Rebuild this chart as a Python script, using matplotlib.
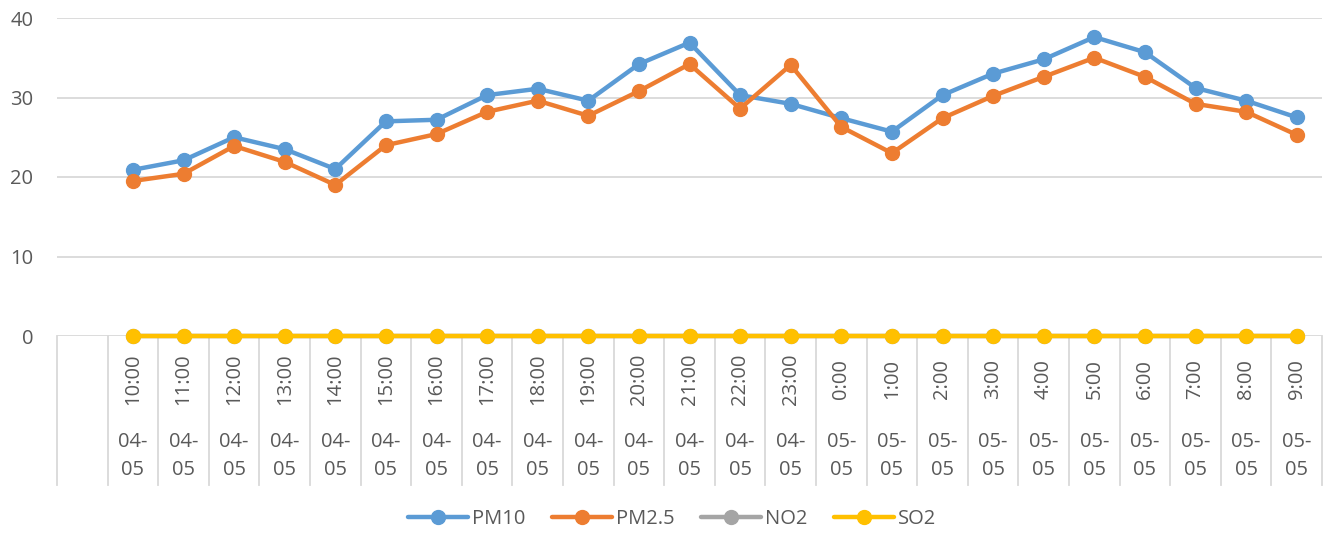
import numpy as np
import matplotlib.pyplot as plt

plt.rcParams['font.family'] = ['Open Sans', 'DejaVu Sans']

hours = ['10:00', '11:00', '12:00', '13:00', '14:00', '15:00', '16:00', '17:00',
         '18:00', '19:00', '20:00', '21:00', '22:00', '23:00', '0:00', '1:00',
         '2:00', '3:00', '4:00', '5:00', '6:00', '7:00', '8:00', '9:00']
dates = ['04-05'] * 14 + ['05-05'] * 10

pm10 = [20.9, 22.1, 25.0, 23.5, 21.0, 27.0, 27.2, 30.3, 31.1, 29.6, 34.2, 36.9,
        30.3, 29.2, 27.4, 25.7, 30.3, 33.0, 34.8, 37.6, 35.7, 31.2, 29.6, 27.5]
pm25 = [19.5, 20.4, 23.9, 21.9, 19.0, 24.0, 25.4, 28.2, 29.6, 27.7, 30.8, 34.2,
        28.6, 34.1, 26.3, 23.0, 27.4, 30.2, 32.6, 35.0, 32.6, 29.2, 28.2, 25.3]
no2 = [0] * 24
so2 = [0] * 24

series = [('PM10', pm10, '#5b9bd5'), ('PM2.5', pm25, '#ed7d31'),
          ('NO2', no2, '#a5a5a5'), ('SO2', so2, '#ffc000')]

txt = '#595959'
grid = '#d9d9d9'
fs = 14.5

fig = plt.figure(figsize=(13.28, 5.36), dpi=100)
ax = fig.add_axes([57 / 1328, 1 - 336 / 536, 1265 / 1328, 318 / 536])

# first slot of the category axis is left empty
x = np.arange(1, len(hours) + 1)
for name, vals, col in series:
    ax.plot(x, vals, color=col, lw=3.2, marker='o', ms=10, label=name,
            solid_capstyle='round', clip_on=False, zorder=3)

ax.set_xlim(-0.5, len(hours) + 0.5)
ax.set_ylim(0, 40)
ax.set_yticks([0, 10, 20, 30, 40])
ax.tick_params(axis='y', length=0, pad=17, labelsize=fs, labelcolor=txt)
ax.set_xticks([])
for s in ax.spines.values():
    s.set_visible(False)
for yv in [10, 20, 30, 40]:
    ax.axhline(yv, color=grid, lw=1.3, zorder=1)
ax.axhline(0, color=grid, lw=1.3, zorder=1)

# two-level category labels with separators
tr = ax.get_xaxis_transform()
for b in np.arange(-0.5, len(hours) + 1):
    ax.plot([b, b], [0, -0.47], transform=tr, color=grid, lw=1.3, clip_on=False)
for xi, h, d in zip(x, hours, dates):
    ax.text(xi, -0.135, h, transform=tr, rotation=90, ha='center', va='center',
            fontsize=fs, color=txt)
    ax.text(xi, -0.378, d.replace('-', '-\n'), transform=tr, ha='center', va='center',
            fontsize=fs, color=txt, linespacing=1.5)

fig.legend(loc='center', bbox_to_anchor=(672 / 1328, 1 - 519 / 536), ncol=4,
           frameon=False, fontsize=fs, labelcolor=txt, handlelength=3.0,
           handletextpad=0.2, columnspacing=1.3)

fig.savefig('out.png', dpi=100)
